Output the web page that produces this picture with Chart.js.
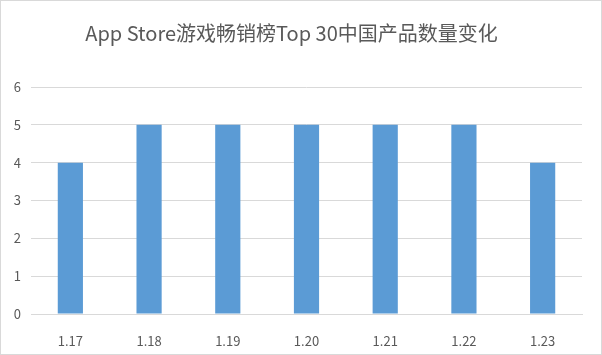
<!DOCTYPE html>
<html>
<head>
<meta charset="utf-8">
<script src="https://cdn.jsdelivr.net/npm/chart.js@4/dist/chart.umd.min.js"></script>
<style>
    body { margin: 0; background: #fff; }
    #wrap { width: 600px; height: 353px; border: 1px solid #d9d9d9; }
</style>
</head>
<body>
<div id="wrap"><canvas id="myChart" width="600" height="353"></canvas></div>
<script>
const dates = ['1.17', '1.18', '1.19', '1.20', '1.21', '1.22', '1.23'];
const counts = [4, 5, 5, 5, 5, 5, 4];
const yTicks = [0, 1, 2, 3, 4, 5, 6];

Chart.defaults.font.family = '"Noto Sans CJK SC", "Noto Sans", sans-serif';
Chart.defaults.font.size = 13;
Chart.defaults.color = '#595959';

const ctx = document.getElementById('myChart').getContext('2d');

new Chart(ctx, {
    type: 'bar',
    data: {
        labels: dates,
        datasets: [{
            label: '数量',
            data: counts,
            backgroundColor: '#5b9bd5',
            categoryPercentage: 1,
            barPercentage: 0.32
        }]
    },
    options: {
        responsive: false,
        animation: false,
        layout: { padding: { left: 0, right: 19, top: 0, bottom: 0 } },
        plugins: {
            legend: { display: false },
            tooltip: { enabled: false },
            title: {
                display: true,
                text: 'App Store游戏畅销榜Top 30中国产品数量变化',
                color: '#595959',
                font: { size: 20, weight: 'normal' },
                padding: { top: 20, bottom: 42 }
            }
        },
        scales: {
            x: {
                grid: { display: false },
                border: { color: '#d9d9d9' },
                ticks: { padding: 11 },
                afterFit: function (axis) { axis.height = 40; }
            },
            y: {
                min: 0,
                max: 6,
                afterBuildTicks: function (axis) {
                    axis.ticks = yTicks.map(v => ({ value: v }));
                },
                grid: { color: '#d9d9d9', drawTicks: false },
                border: { display: false },
                ticks: { padding: 10 },
                afterFit: function (axis) { axis.width = 30; }
            }
        }
    }
});
</script>
</body>
</html>
